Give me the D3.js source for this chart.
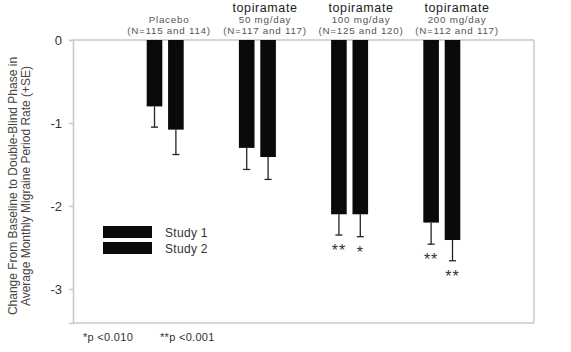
<html>
  <head>
    <meta charset="utf-8">
    <style>
      body {
        margin: 0;
        background: white;
        font-family: "Liberation Sans", Arial, sans-serif;
      }
      svg text {
        font-family: "Liberation Sans", Arial, sans-serif;
      }
    </style>
    <script src="https://cdn.jsdelivr.net/npm/d3@7"></script>
  </head>
  <body>
    <svg id="chart"></svg>
  </body>
  <script>
    // values
    const groups = ["Placebo", "50 mg/day", "100 mg/day", "200 mg/day"];
    const groupDrug = ["", "topiramate", "topiramate", "topiramate"];
    const groupDose = ["Placebo", "50 mg/day", "100 mg/day", "200 mg/day"];
    const groupN = ["(N=115 and 114)", "(N=117 and 117)", "(N=125 and 120)", "(N=112 and 117)"];
    const studies = ["Study 1", "Study 2"];
    const study1 = [-0.8, -1.3, -2.1, -2.2];
    const study1SE = [0.25, 0.26, 0.25, 0.26];
    const study2 = [-1.08, -1.41, -2.1, -2.41];
    const study2SE = [0.3, 0.27, 0.27, 0.25];
    const study1Sig = ["", "", "**", "**"];
    const study2Sig = ["", "", "*", "**"];
    const yTicks = [0, -1, -2, -3];
    const footnotes = ["*p <0.010", "**p <0.001"];

    let width = 571;
    let height = 352;
    let margin = { top: 40, left: 73, right: 37, bottom: 29 };

    let svg = d3.select("#chart").attr("width", width).attr("height", height);

    let xScale = d3
      .scalePoint()
      .domain(groups)
      .range([margin.left, width - margin.right])
      .padding(1);

    // headers sit a bit to the right of the bars in the original
    let headerScale = d3
      .scalePoint()
      .domain(groups)
      .range([margin.left, 553])
      .padding(1);

    let studyScale = d3
      .scaleBand()
      .domain(studies)
      .range([-18.5, 18.5])
      .paddingInner(0.27);

    let yScale = d3
      .scaleLinear()
      .domain([0, -3.41])
      .range([margin.top, height - margin.bottom]);

    // frame
    let frameColor = "#c8c8c8";
    svg.append("line")
      .attr("x1", margin.left).attr("x2", width - margin.right)
      .attr("y1", yScale(0)).attr("y2", yScale(0))
      .attr("stroke", frameColor).attr("stroke-width", 1.5);
    svg.append("line")
      .attr("x1", width - margin.right).attr("x2", width - margin.right)
      .attr("y1", yScale(0)).attr("y2", height - margin.bottom)
      .attr("stroke", frameColor).attr("stroke-width", 1.5);
    svg.append("line")
      .attr("x1", margin.left).attr("x2", width - margin.right)
      .attr("y1", height - margin.bottom).attr("y2", height - margin.bottom)
      .attr("stroke", frameColor).attr("stroke-width", 1.5);

    // y axis
    let axisY = d3.axisLeft(yScale).tickValues(yTicks).tickSize(4).tickPadding(7)
      .tickFormat((d) => (d < 0 ? "-" + Math.abs(d) : String(d)));
    let gy = svg.append("g")
      .attr("transform", `translate(${margin.left},0)`)
      .call(axisY);
    gy.select(".domain").attr("stroke", frameColor).attr("stroke-width", 1.5);
    gy.selectAll(".tick line").attr("stroke", frameColor).attr("stroke-width", 1.5);
    gy.selectAll(".tick text")
      .attr("fill", "#333")
      .style("font-size", "13px");

    // y title
    let titleG = svg.append("g").attr("transform", "translate(17,186) rotate(-90)");
    titleG.append("text")
      .attr("text-anchor", "middle")
      .attr("fill", "#444")
      .style("font-size", "12px")
      .text("Change From Baseline to Double-Blind Phase in");
    titleG.append("text")
      .attr("y", 13)
      .attr("text-anchor", "middle")
      .attr("fill", "#444")
      .style("font-size", "12px")
      .text("Average Monthly Migraine Period Rate (+SE)");

    // bars
    let barData = [];
    groups.forEach((g, i) => {
      barData.push({ group: g, study: studies[0], value: study1[i], se: study1SE[i], sig: study1Sig[i] });
      barData.push({ group: g, study: studies[1], value: study2[i], se: study2SE[i], sig: study2Sig[i] });
    });

    let barX = (d) => xScale(d.group) + studyScale(d.study);
    let barMid = (d) => barX(d) + studyScale.bandwidth() / 2;

    svg.selectAll(".err")
      .data(barData)
      .enter()
      .append("line")
      .attr("class", "err")
      .attr("x1", barMid).attr("x2", barMid)
      .attr("y1", (d) => yScale(d.value))
      .attr("y2", (d) => yScale(d.value - d.se))
      .attr("stroke", "#222").attr("stroke-width", 1.3);

    svg.selectAll(".cap")
      .data(barData)
      .enter()
      .append("line")
      .attr("class", "cap")
      .attr("x1", (d) => barMid(d) - 3.5).attr("x2", (d) => barMid(d) + 3.5)
      .attr("y1", (d) => yScale(d.value - d.se))
      .attr("y2", (d) => yScale(d.value - d.se))
      .attr("stroke", "#222").attr("stroke-width", 1.3);

    svg.selectAll(".bar")
      .data(barData)
      .enter()
      .append("rect")
      .attr("class", "bar")
      .attr("x", barX)
      .attr("y", yScale(0))
      .attr("width", studyScale.bandwidth())
      .attr("height", (d) => yScale(d.value) - yScale(0))
      .attr("fill", "#0a0a0a");

    svg.selectAll(".sig")
      .data(barData.filter((d) => d.sig))
      .enter()
      .append("text")
      .attr("class", "sig")
      .attr("x", barMid)
      .attr("y", (d) => yScale(d.value - d.se) + 21)
      .attr("text-anchor", "middle")
      .attr("fill", "#333")
      .style("font-size", "16px")
      .style("letter-spacing", "1px")
      .text((d) => d.sig);

    // headers above the groups
    let headers = svg.selectAll(".header")
      .data(groups)
      .enter()
      .append("g")
      .attr("class", "header")
      .attr("transform", (d) => `translate(${headerScale(d)},0)`);
    headers.append("text")
      .attr("y", 11.5)
      .attr("text-anchor", "middle")
      .attr("fill", "#222")
      .style("font-size", "12.5px")
      .style("letter-spacing", "0.6px")
      .text((d, i) => groupDrug[i]);
    headers.append("text")
      .attr("y", 23)
      .attr("text-anchor", "middle")
      .attr("fill", "#555")
      .style("font-size", "9.8px")
      .style("letter-spacing", "0.75px")
      .text((d, i) => groupDose[i]);
    headers.append("text")
      .attr("y", 34)
      .attr("text-anchor", "middle")
      .attr("fill", "#555")
      .style("font-size", "9.8px")
      .style("letter-spacing", "0.75px")
      .text((d, i) => groupN[i]);

    // legend
    let legend = svg.selectAll(".legend")
      .data(studies)
      .enter()
      .append("g")
      .attr("class", "legend")
      .attr("transform", (d, i) => `translate(103,${226 + i * 16})`);
    legend.append("rect")
      .attr("width", 49).attr("height", 12)
      .attr("fill", "#0a0a0a");
    legend.append("text")
      .attr("x", 62).attr("y", 11)
      .attr("fill", "#333")
      .style("font-size", "12px")
      .style("letter-spacing", "0.3px")
      .text((d) => d);

    // footnotes
    svg.selectAll(".foot")
      .data(footnotes)
      .enter()
      .append("text")
      .attr("class", "foot")
      .attr("x", (d, i) => 83 + i * 77)
      .attr("y", 341)
      .attr("fill", "#333")
      .style("font-size", "11px")
      .style("letter-spacing", "0.3px")
      .text((d) => d);
  </script>
</html>
